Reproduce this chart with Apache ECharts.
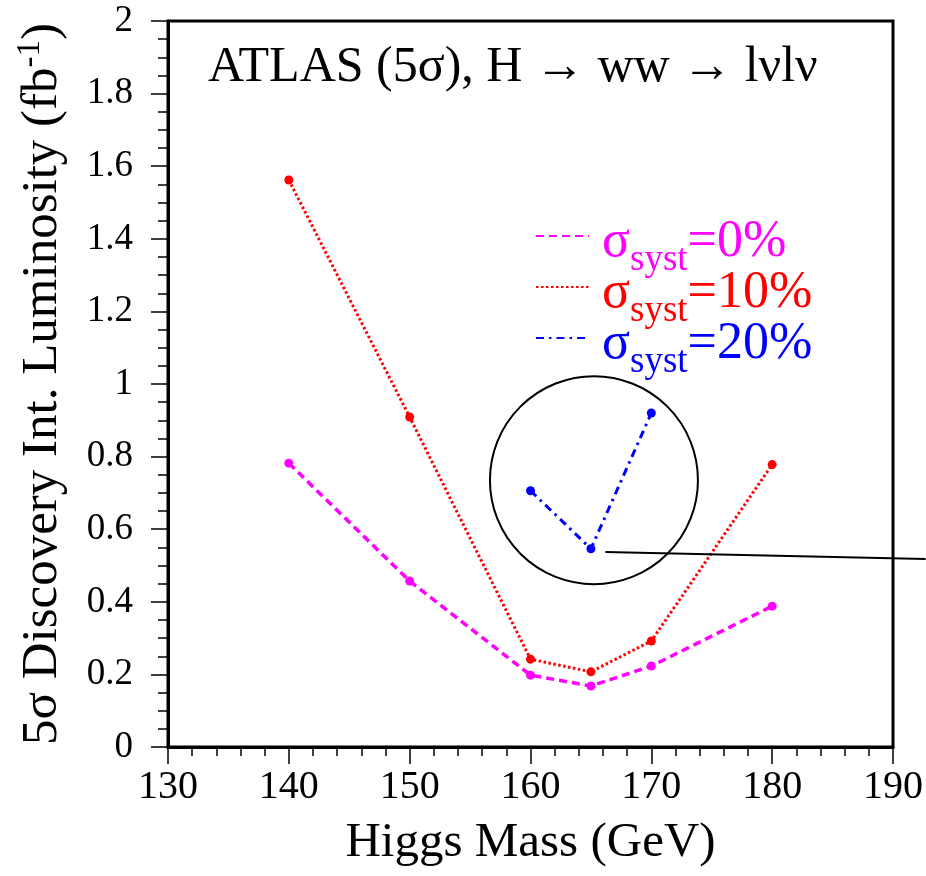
<!DOCTYPE html>
<html>
<head>
<meta charset="utf-8">
<title>Higgs discovery luminosity</title>
<script src="https://cdn.jsdelivr.net/npm/echarts@6/dist/echarts.min.js"></script>
<style>
    html, body {margin: 0; padding: 0; background: #fff;}
    #chart {width: 926px; height: 876px;}
</style>
</head>
<body>
<div id="chart"></div>
<script>
// data
var masses = [140, 150, 160, 165, 170, 180];
var lumiSyst0 = [0.782, 0.457, 0.198, 0.168, 0.223, 0.388];
var lumiSyst10 = [1.562, 0.909, 0.242, 0.207, 0.292, 0.778];
var massesSyst20 = [160, 165, 170];
var lumiSyst20 = [0.706, 0.546, 0.92];

var seriesNames = ["syst0", "syst10", "syst20"];
var legendText = ["=0%", "=10%", "=20%"];

// circle + pointer annotation, in data units
var circleCenter = [165.25, 0.735];
var pointerFrom = [166.2, 0.537];
var pointerTo = [192.7, 0.518];

var serif = "Liberation Serif";
var chart;

function pairs(xs, ys) {
    var out = [];
    for (var i = 0; i < xs.length; i++) {
        out.push([xs[i], ys[i]]);
    }
    return out;
}

function legendRich() {
    var colors = ["#ff00ff", "#ff0000", "#0000ff"];
    var rich = {};
    for (var i = 0; i < colors.length; i++) {
        rich["s" + i] = {color: colors[i], fontFamily: serif, fontSize: 52, lineHeight: 40, verticalAlign: "top", padding: [0, 0, 0, 8]};
        rich["b" + i] = {color: colors[i], fontFamily: serif, fontSize: 37, lineHeight: 28, verticalAlign: "top", padding: [26, 0, 0, 0]};
        rich["t" + i] = {color: colors[i], fontFamily: serif, fontSize: 52, lineHeight: 40, verticalAlign: "top"};
    }
    return rich;
}

chart = echarts.init(document.getElementById("chart"));

chart.setOption({
    animation: false,
    backgroundColor: "#fff",
    textStyle: {fontFamily: serif, color: "#000"},
    title: {
        text: "ATLAS (5σ), H → ww → lνlν",
        left: 203,
        top: 38,
        textStyle: {fontFamily: serif, fontSize: 50, fontWeight: "normal", color: "#000"}
    },
    grid: {
        left: 168,
        right: 32,
        top: 21,
        bottom: 129,
        show: true,
        borderColor: "#000",
        borderWidth: 3,
        backgroundColor: "transparent"
    },
    legend: {
        orient: "vertical",
        left: 530,
        top: 211,
        itemWidth: 53,
        itemHeight: 14,
        itemGap: -12,
        data: seriesNames,
        itemStyle: {opacity: 0},
        formatter: function (name) {
            var i = seriesNames.indexOf(name);
            return "{s" + i + "|σ}{b" + i + "|syst}{t" + i + "|" + legendText[i] + "}";
        },
        textStyle: {fontFamily: serif, rich: legendRich()}
    },
    xAxis: {
        type: "value",
        min: 130,
        max: 190,
        interval: 10,
        name: "Higgs Mass (GeV)",
        nameLocation: "middle",
        nameGap: 72,
        nameTextStyle: {fontFamily: serif, fontSize: 49, color: "#000"},
        axisLine: {show: true, lineStyle: {color: "#000", width: 3}},
        axisTick: {show: true, inside: false, length: 17, lineStyle: {color: "#000", width: 1.5}},
        minorTick: {show: true, splitNumber: 5, length: 9, lineStyle: {color: "#000", width: 1.5}},
        axisLabel: {fontFamily: serif, fontSize: 40, color: "#000", margin: 20},
        splitLine: {show: false}
    },
    yAxis: {
        type: "value",
        min: 0,
        max: 2,
        interval: 0.2,
        name: "{a|5σ Discovery Int. Luminosity (fb}{sup|-1}{a|)}",
        nameLocation: "middle",
        nameRotate: 90,
        nameGap: 100,
        nameTextStyle: {
            fontFamily: serif,
            rich: {
                a: {fontFamily: serif, fontSize: 51, color: "#000", lineHeight: 54, verticalAlign: "bottom"},
                sup: {fontFamily: serif, fontSize: 33, color: "#000", lineHeight: 54, verticalAlign: "top", padding: [0, 0, 14, 0]}
            }
        },
        axisLine: {show: true, lineStyle: {color: "#000", width: 3}},
        axisTick: {show: true, inside: false, length: 17, lineStyle: {color: "#000", width: 1.5}},
        minorTick: {show: true, splitNumber: 4, length: 10, lineStyle: {color: "#000", width: 1.5}},
        axisLabel: {fontFamily: serif, fontSize: 37, color: "#000", margin: 35},
        splitLine: {show: false}
    },
    series: [
        {
            name: "syst0",
            type: "line",
            data: pairs(masses, lumiSyst0),
            symbol: "circle",
            symbolSize: 9,
            color: "#ff00ff",
            lineStyle: {color: "#ff00ff", width: 3.5, type: [8, 5]}
        },
        {
            name: "syst10",
            type: "line",
            data: pairs(masses, lumiSyst10),
            symbol: "circle",
            symbolSize: 9,
            color: "#ff0000",
            lineStyle: {color: "#ff0000", width: 3, type: [2.5, 2.5]}
        },
        {
            name: "syst20",
            type: "line",
            data: pairs(massesSyst20, lumiSyst20),
            symbol: "circle",
            symbolSize: 9,
            color: "#0000ff",
            lineStyle: {color: "#0000ff", width: 3, type: [8, 5, 2.5, 5]}
        }
    ]
});

// annotation circle and pointer line, placed through the axes
var c = chart.convertToPixel({gridIndex: 0}, circleCenter);
var p0 = chart.convertToPixel({gridIndex: 0}, pointerFrom);
var p1 = chart.convertToPixel({gridIndex: 0}, pointerTo);
chart.setOption({
    graphic: [
        {
            type: "circle",
            shape: {cx: c[0], cy: c[1], r: 104},
            style: {fill: "none", stroke: "#000", lineWidth: 2},
            z: 100
        },
        {
            type: "line",
            shape: {x1: p0[0], y1: p0[1], x2: p1[0], y2: p1[1]},
            style: {stroke: "#000", lineWidth: 2},
            z: 100
        }
    ]
});
</script>
</body>
</html>
